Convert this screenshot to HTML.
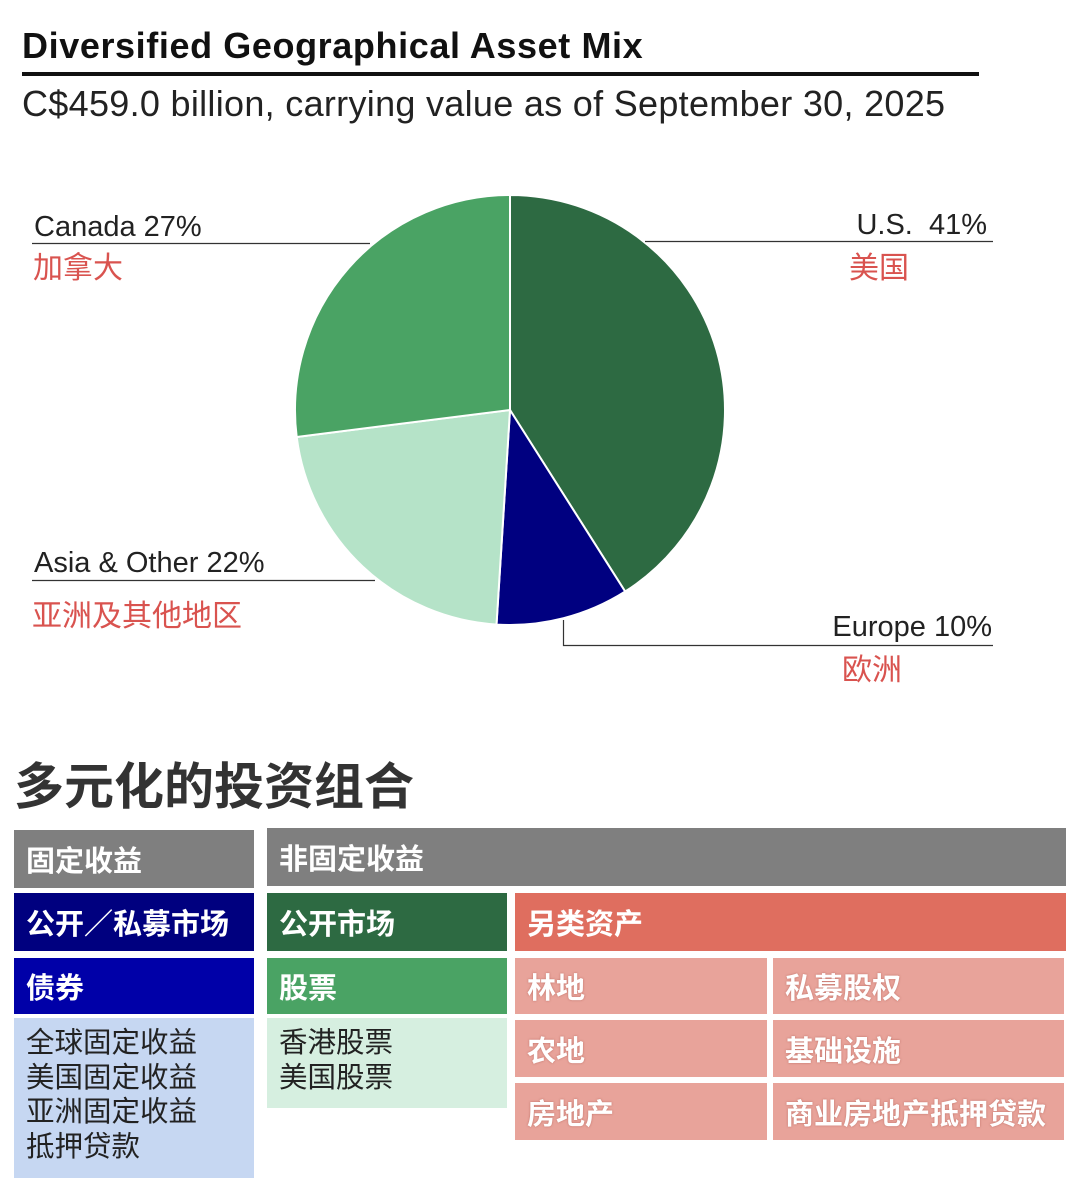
<!DOCTYPE html>
<html><head><meta charset="utf-8">
<style>
body{margin:0;width:1080px;height:1195px;background:#fff;position:relative;overflow:hidden;font-family:"Liberation Sans","Noto Sans CJK SC",sans-serif;}
.a{position:absolute;}
.cell{position:absolute;box-sizing:border-box;color:#fff;font-weight:bold;font-size:29px;padding-left:12px;display:flex;align-items:center;font-family:"Liberation Sans","Noto Sans CJK SC",sans-serif;}
.pk{background:#e8a39a;text-shadow:0 0 2px rgba(150,60,50,.5);}
</style></head><body>
<div class="a" style="left:22px;top:25px;font-size:36px;letter-spacing:0.6px;font-weight:bold;color:#111">Diversified Geographical Asset Mix</div>
<div class="a" style="left:22px;top:72px;width:957px;height:4px;background:#111"></div>
<div class="a" style="left:22px;top:83px;font-size:36px;letter-spacing:0.3px;color:#222">C$459.0 billion, carrying value as of September 30, 2025</div>

<svg class="a" style="left:0;top:0" width="1080" height="720">
<g id="pie"></g>
<g stroke="#333" stroke-width="1.2" fill="none">
<line x1="32" y1="243.5" x2="370" y2="243.5"/>
<line x1="645" y1="241.5" x2="993" y2="241.5"/>
<line x1="32" y1="580.5" x2="375" y2="580.5"/>
<polyline points="563.5,620 563.5,645.5 993,645.5"/>
</g>
<g font-family="Liberation Sans, Noto Sans CJK SC, sans-serif">
<text x="34" y="236" font-size="29" fill="#222">Canada 27%</text>
<text x="33" y="278" font-size="30" fill="#d9534f">加拿大</text>
<text x="987" y="234" font-size="29" fill="#222" text-anchor="end" xml:space="preserve">U.S.  41%</text>
<text x="849" y="278" font-size="30" fill="#d9534f">美国</text>
<text x="34" y="572" font-size="29" fill="#222">Asia &amp; Other 22%</text>
<text x="32" y="626" font-size="30" fill="#d9534f">亚洲及其他地区</text>
<text x="992" y="636" font-size="29" fill="#222" text-anchor="end">Europe 10%</text>
<text x="842" y="680" font-size="30" fill="#d9534f">欧洲</text>
</g>
</svg>

<div class="a" style="left:14px;top:747px;font-size:50px;font-weight:bold;color:#333">多元化的投资组合</div>

<div class="cell" style="left:14px;top:830px;width:240px;height:58px;background:#7f7f7f">固定收益</div>
<div class="cell" style="left:267px;top:828px;width:799px;height:58px;background:#7f7f7f">非固定收益</div>
<div class="cell" style="left:14px;top:893px;width:240px;height:58px;background:#00007f">公开／私募市场</div>
<div class="cell" style="left:267px;top:893px;width:240px;height:58px;background:#2d6a42">公开市场</div>
<div class="cell" style="left:515px;top:893px;width:551px;height:58px;background:#df6e5f">另类资产</div>
<div class="cell" style="left:14px;top:958px;width:240px;height:56px;background:#0000a8">债券</div>
<div class="cell" style="left:267px;top:958px;width:240px;height:56px;background:#4aa364">股票</div>
<div class="a" style="left:14px;top:1018px;width:240px;height:160px;background:#c6d7f2;box-sizing:border-box;padding:8px 12px;font-size:28.5px;line-height:34.5px;color:#222">全球固定收益<br>美国固定收益<br>亚洲固定收益<br>抵押贷款</div>
<div class="a" style="left:267px;top:1018px;width:240px;height:90px;background:#d6efe0;box-sizing:border-box;padding:8px 12px;font-size:28.5px;line-height:34.5px;color:#222">香港股票<br>美国股票</div>
<div class="cell pk" style="left:515px;top:958px;width:252px;height:56px">林地</div>
<div class="cell pk" style="left:773px;top:958px;width:291px;height:56px">私募股权</div>
<div class="cell pk" style="left:515px;top:1020px;width:252px;height:57px">农地</div>
<div class="cell pk" style="left:773px;top:1020px;width:291px;height:57px">基础设施</div>
<div class="cell pk" style="left:515px;top:1083px;width:252px;height:57px">房地产</div>
<div class="cell pk" style="left:773px;top:1083px;width:291px;height:57px">商业房地产抵押贷款</div>

<script>
const regions = ["U.S.", "Europe", "Asia & Other", "Canada"];
const shares = [41, 10, 22, 27];
const colors = ["#2d6a42", "#000080", "#b5e3c8", "#4aa364"];
const cx = 510, cy = 410, r = 215;
const g = document.getElementById('pie');
const total = shares.reduce((a,b)=>a+b,0);
let acc = 0;
function pt(f){const a=f*2*Math.PI;return [cx+r*Math.sin(a), cy-r*Math.cos(a)];}
shares.forEach((v,i)=>{
  const s=acc/total; acc+=v; const e=acc/total;
  const [x1,y1]=pt(s),[x2,y2]=pt(e);
  const p=document.createElementNS('http://www.w3.org/2000/svg','path');
  p.setAttribute('d',`M${cx},${cy} L${x1},${y1} A${r},${r} 0 ${e-s>0.5?1:0} 1 ${x2},${y2} Z`);
  p.setAttribute('fill',colors[i]);
  p.setAttribute('stroke','#fff');
  p.setAttribute('stroke-width','2');
  
  
  g.appendChild(p);
});
</script>
</body></html>
